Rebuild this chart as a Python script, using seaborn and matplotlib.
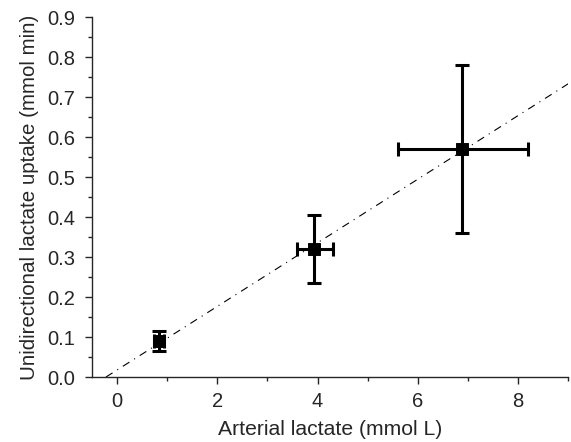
import pandas as pd
import matplotlib
matplotlib.use('Agg')
import matplotlib.pyplot as plt
import seaborn as sns
from matplotlib.ticker import MultipleLocator, FormatStrFormatter

sns.set_style('ticks')
plt.rcParams['font.family'] = ['Liberation Sans', 'DejaVu Sans']

# data
lactate = [0.83, 3.94, 6.89]
lactate_lo = [0.73, 3.60, 5.60]
lactate_hi = [0.93, 4.30, 8.19]
uptake = [0.091, 0.319, 0.570]
uptake_lo = [0.066, 0.236, 0.361]
uptake_hi = [0.116, 0.405, 0.780]

# regression line
fit_x = [-0.22, 9.0]
fit_y = [0.0, 0.733]

df = pd.DataFrame({'x': lactate, 'y': uptake})
fit = pd.DataFrame({'x': fit_x, 'y': fit_y})

fig, ax = plt.subplots(figsize=(5.71, 4.42), dpi=100)
fig.subplots_adjust(left=0.161, right=0.995, top=0.9615, bottom=0.147)

sns.lineplot(data=fit, x='x', y='y', ax=ax, color='black', lw=0.8,
             linestyle=(0, (7, 5, 1, 5)))

xerr = [[a - b for a, b in zip(lactate, lactate_lo)],
        [b - a for a, b in zip(lactate, lactate_hi)]]
yerr = [[a - b for a, b in zip(uptake, uptake_lo)],
        [b - a for a, b in zip(uptake, uptake_hi)]]
ax.errorbar(lactate, uptake, xerr=xerr, yerr=yerr, fmt='none',
            ecolor='black', elinewidth=2.2, capsize=5, capthick=2.2)
sns.scatterplot(data=df, x='x', y='y', ax=ax, marker='s', s=70,
                color='black', edgecolor='black', zorder=5)

ax.set_xlim(-0.5, 9)
ax.set_ylim(0, 0.9)
ax.xaxis.set_major_locator(MultipleLocator(2))
ax.xaxis.set_minor_locator(MultipleLocator(1))
ax.yaxis.set_major_locator(MultipleLocator(0.1))
ax.yaxis.set_minor_locator(MultipleLocator(0.05))
ax.yaxis.set_major_formatter(FormatStrFormatter('%.1f'))
ax.tick_params(which='major', direction='out', length=5, width=1, labelsize=14.5)
ax.tick_params(axis='y', which='major', pad=7)
ax.tick_params(axis='x', which='major', pad=6)
ax.tick_params(which='minor', direction='out', length=3, width=1)
for s in ['left', 'bottom']:
    ax.spines[s].set_linewidth(1)
sns.despine(ax=ax)

ax.set_xlabel('Arterial lactate (mmol L)', fontsize=15.2, labelpad=6)
ax.set_ylabel('Unidirectional lactate uptake (mmol min)', fontsize=14.8, labelpad=6)

plt.savefig('out.png', dpi=100, facecolor='white')
plt.close()
